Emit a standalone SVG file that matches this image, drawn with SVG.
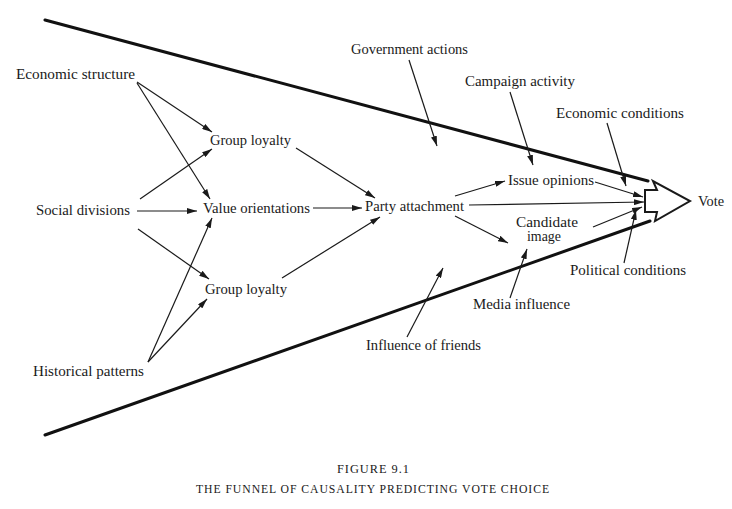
<svg xmlns="http://www.w3.org/2000/svg" width="732" height="509" viewBox="0 0 732 509">
<defs>
<style>
text{font-family:"Liberation Serif","DejaVu Serif",serif;font-size:14px;fill:#1a1a1a}
.cap{font-size:12.5px;letter-spacing:1px}
.ln{stroke:#1a1a1a;stroke-width:1.2;fill:none;marker-end:url(#ah)}
.fun{stroke:#111;stroke-width:3;fill:none;stroke-linecap:round}
</style>
<marker id="ah" viewBox="0 0 10 6" refX="10" refY="3" markerWidth="10" markerHeight="6" markerUnits="userSpaceOnUse" orient="auto">
<path d="M0,0 L10,3 L0,6 Z" fill="#1a1a1a"/>
</marker>
</defs>
<rect width="732" height="509" fill="#fff"/>
<g id="funnel">
<line class="fun" x1="45" y1="20" x2="648" y2="181"/>
<line class="fun" x1="45" y1="435" x2="650" y2="221"/>
</g>
<g id="vote-arrow">
<polygon points="645,190 657,190 653,181 690,201 655,221 657,212 645,212" fill="#fff" stroke="#1a1a1a" stroke-width="2" stroke-linejoin="miter"/>
</g>
<g id="connectors">
<line class="ln" x1="137" y1="82" x2="212" y2="132"/>
<line class="ln" x1="137" y1="83" x2="210" y2="199"/>
<line class="ln" x1="140" y1="199" x2="212" y2="149"/>
<line class="ln" x1="137" y1="211" x2="197" y2="211"/>
<line class="ln" x1="138" y1="229" x2="209" y2="279"/>
<line class="ln" x1="148" y1="362" x2="212" y2="218"/>
<line class="ln" x1="148" y1="362" x2="207" y2="299"/>
<line class="ln" x1="296" y1="148" x2="375" y2="198"/>
<line class="ln" x1="313" y1="208" x2="362" y2="208"/>
<line class="ln" x1="282" y1="278" x2="380" y2="217"/>
<line class="ln" x1="455" y1="196" x2="505" y2="181"/>
<line class="ln" x1="469" y1="205" x2="644" y2="202"/>
<line class="ln" x1="455" y1="216" x2="508" y2="243"/>
<line class="ln" x1="409" y1="60" x2="437" y2="146"/>
<line class="ln" x1="510" y1="92" x2="533" y2="165"/>
<line class="ln" x1="607" y1="123" x2="626" y2="186"/>
<line class="ln" x1="595" y1="182" x2="643" y2="197"/>
<line class="ln" x1="593" y1="227" x2="642" y2="207"/>
<line class="ln" x1="624" y1="263" x2="636" y2="210"/>
<line class="ln" x1="510" y1="298" x2="527" y2="249"/>
<line class="ln" x1="407" y1="337" x2="443" y2="268"/>
</g>
<g id="n-economic-structure"><text x="16" y="79" textLength="119" lengthAdjust="spacingAndGlyphs">Economic structure</text></g>
<g id="n-group-loyalty-1"><text x="210" y="145" textLength="81" lengthAdjust="spacingAndGlyphs">Group loyalty</text></g>
<g id="n-social-divisions"><text x="36" y="215" textLength="94" lengthAdjust="spacingAndGlyphs">Social divisions</text></g>
<g id="n-value-orientations"><text x="203" y="213" textLength="107" lengthAdjust="spacingAndGlyphs">Value orientations</text></g>
<g id="n-party-attachment"><text x="365" y="211" textLength="99" lengthAdjust="spacingAndGlyphs">Party attachment</text></g>
<g id="n-group-loyalty-2"><text x="205" y="294" textLength="82" lengthAdjust="spacingAndGlyphs">Group loyalty</text></g>
<g id="n-historical-patterns"><text x="33" y="376" textLength="111" lengthAdjust="spacingAndGlyphs">Historical patterns</text></g>
<g id="n-government-actions"><text x="351" y="54" textLength="117" lengthAdjust="spacingAndGlyphs">Government actions</text></g>
<g id="n-campaign-activity"><text x="465" y="86" textLength="110" lengthAdjust="spacingAndGlyphs">Campaign activity</text></g>
<g id="n-economic-conditions"><text x="556" y="118" textLength="128" lengthAdjust="spacingAndGlyphs">Economic conditions</text></g>
<g id="n-issue-opinions"><text x="508" y="185" textLength="86" lengthAdjust="spacingAndGlyphs">Issue opinions</text></g>
<g id="n-candidate-image"><text x="516" y="227" textLength="62" lengthAdjust="spacingAndGlyphs">Candidate</text><text x="527" y="241" textLength="34" lengthAdjust="spacingAndGlyphs">image</text></g>
<g id="n-political-conditions"><text x="570" y="275" textLength="116" lengthAdjust="spacingAndGlyphs">Political conditions</text></g>
<g id="n-media-influence"><text x="473" y="309" textLength="97" lengthAdjust="spacingAndGlyphs">Media influence</text></g>
<g id="n-influence-of-friends"><text x="366" y="350" textLength="115" lengthAdjust="spacingAndGlyphs">Influence of friends</text></g>
<g id="n-vote"><text x="698" y="206" textLength="26" lengthAdjust="spacingAndGlyphs">Vote</text></g>
<g id="caption">
<text class="cap" x="337" y="473" textLength="73" lengthAdjust="spacingAndGlyphs">FIGURE 9.1</text>
<text class="cap" x="196" y="493" textLength="354" lengthAdjust="spacingAndGlyphs">THE FUNNEL OF CAUSALITY PREDICTING VOTE CHOICE</text>
</g>
</svg>
